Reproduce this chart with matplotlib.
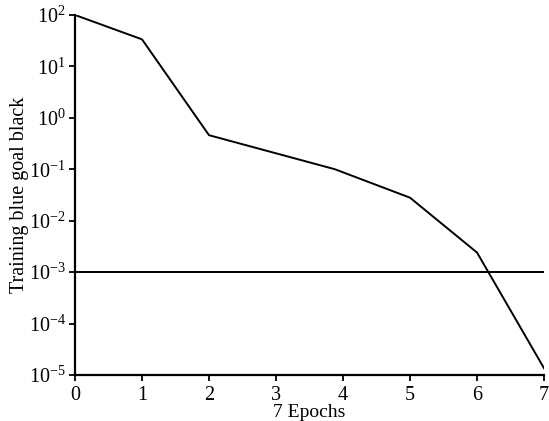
import matplotlib
matplotlib.use("Agg")
import matplotlib.pyplot as plt
from matplotlib.ticker import NullLocator

epochs = [0, 1, 2, 3.88, 5, 6, 7]
loss = [100, 33.6, 0.46, 0.1, 0.028, 0.0024, 1.35e-5]
goal = 1e-3
xticks = [0, 1, 2, 3, 4, 5, 6, 7]
yticks = [1e-5, 1e-4, 1e-3, 1e-2, 1e-1, 1e0, 1e1, 1e2]

plt.rcParams['font.family'] = ['Liberation Serif', 'DejaVu Serif']
plt.rcParams['mathtext.fontset'] = 'stix'

fig = plt.figure(figsize=(5.49, 4.21), dpi=100)
ax = fig.add_axes([0.1366, 0.1093, 0.8544, 0.8551])
ax.plot(epochs, loss, color='black', lw=1.4)
ax.axhline(goal, color='black', lw=1.4)
ax.set_yscale('log')
ax.set_xlim(0, 7)
ax.set_ylim(1e-5, 1e2)
ax.set_xticks(xticks)
ax.set_yticks(yticks)
ax.yaxis.set_minor_locator(NullLocator())
for s in ['top', 'right']:
    ax.spines[s].set_visible(False)
for s in ['left', 'bottom']:
    ax.spines[s].set_linewidth(1.6)
ax.tick_params(direction='out', length=4.5, width=1.3, labelsize=14.5)
ax.tick_params(axis='x', pad=3.5)
ax.tick_params(axis='y', pad=2)
ax.set_xlabel('7 Epochs', fontsize=14, labelpad=-1)
ax.set_ylabel('Training blue goal black', fontsize=14.5, labelpad=0)
fig.savefig('out.png', dpi=100)
